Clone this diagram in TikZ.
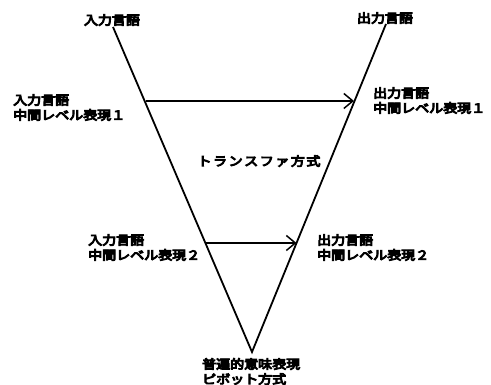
\documentclass[tikz,border=0pt]{standalone}
\usepackage{fontspec}
\setmainfont{Noto Sans CJK JP}
\newcommand\heavytext[1]{\special{pdf:literal direct 2 Tr 0.9 w}#1\special{pdf:literal direct 0 Tr}}
\newcommand\kk{\kern1.4pt}
\usetikzlibrary{arrows.meta}
\begin{document}
\begin{tikzpicture}[x=1pt,y=-1pt,
  lbl/.style={inner sep=0pt,align=left,xscale=1.12,font=\fontsize{12.5}{15}\selectfont},
  vline/.style={line width=1.8pt},
  harrow/.style={line width=1.5pt,-{Straight Barb[length=9pt,width=15pt,line width=1.5pt]}}]
\useasboundingbox (0,0) rectangle (491,385);
\coordinate (LT) at (113,27);
\coordinate (RT) at (386,24);
\coordinate (V) at (252,352);
\draw[vline] (LT) -- (V) -- (RT);
\coordinate (A1s) at (145.5,101);
\coordinate (A1e) at (354,101);
\coordinate (A2s) at (205.5,243);
\coordinate (A2e) at (296.5,243);
\draw[harrow] (A1s) -- (A1e);
\draw[harrow] (A2s) -- (A2e);
\node[lbl] (in) at (112,20) {\heavytext{入力言語}};
\node[lbl] (out) at (385,18) {\heavytext{出力言語}};
\node[lbl,anchor=west] (in1) at (13,107.5) {\heavytext{入力言語}\\\heavytext{中間レベル表現１}};
\node[lbl,anchor=west] (out1) at (373,100.5) {\heavytext{出力言語}\\\heavytext{中間レベル表現１}};
\node[lbl] (tr) at (259,161) {\heavytext{ト\kk ラ\kk ン\kk ス\kk フ\kk ァ\kk 方\kk 式}};
\node[lbl,anchor=west] (in2) at (88,247.5) {\heavytext{入力言語}\\\heavytext{中間レベル表現２}};
\node[lbl,anchor=west] (out2) at (317,247.5) {\heavytext{出力言語}\\\heavytext{中間レベル表現２}};
\node[lbl,anchor=west] (piv) at (202,371.5) {\heavytext{普遍的意味表現}\\\heavytext{ピボット方式}};
\end{tikzpicture}
\end{document}
